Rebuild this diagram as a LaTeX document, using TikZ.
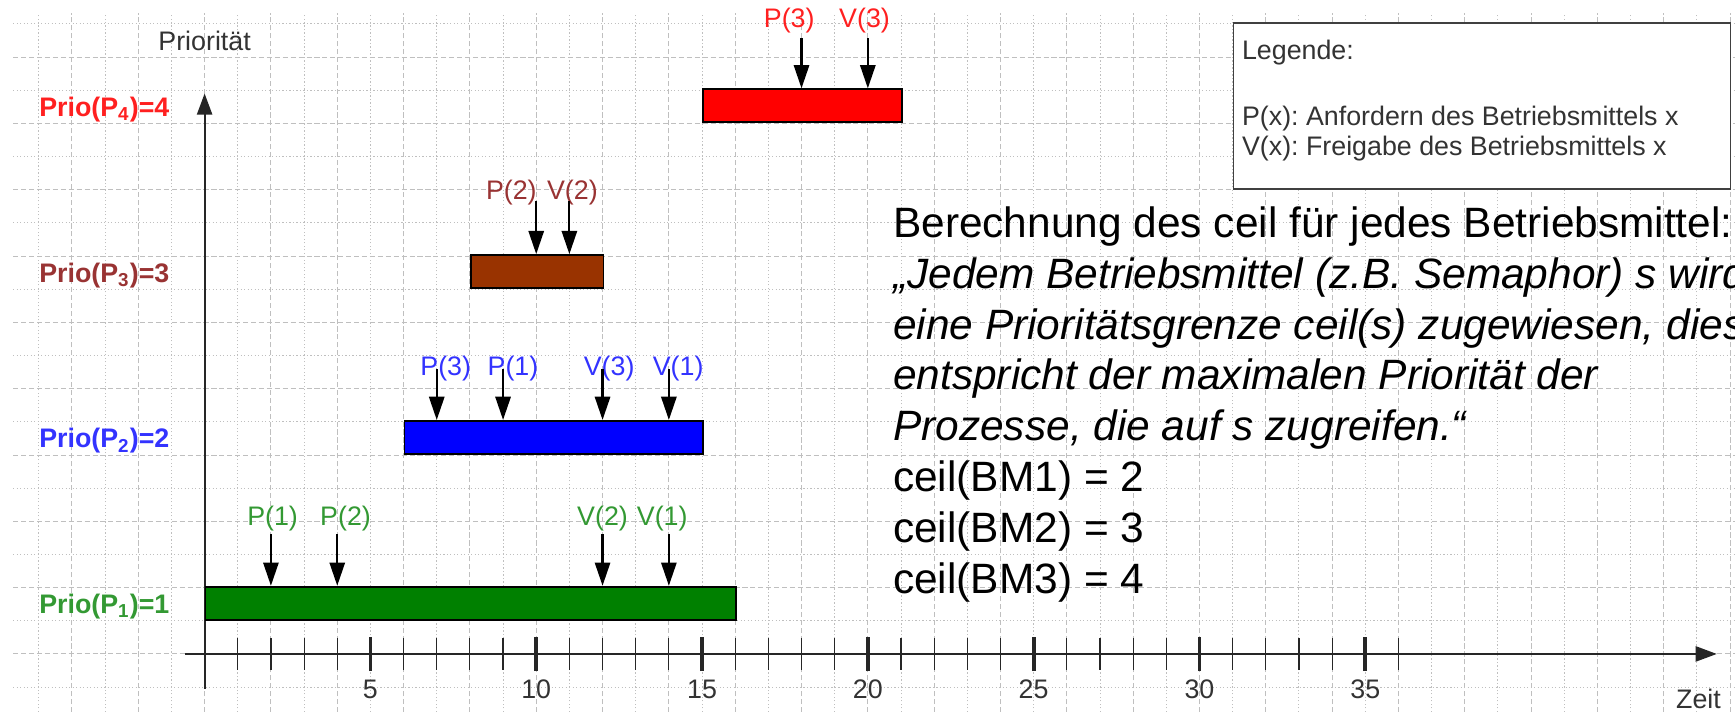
\documentclass[tikz,border=0pt]{standalone}
\usepackage{fontspec}
\setmainfont{Liberation Sans}
\usepackage{xcolor}
\usepackage{tikz}
\usetikzlibrary{arrows.meta, positioning, calc}
\definecolor{pgreen}{HTML}{008000}
\definecolor{pblue}{HTML}{0000FF}
\definecolor{pbrown}{HTML}{993300}
\definecolor{pred}{HTML}{FF0000}
\definecolor{tgreen}{HTML}{339933}
\definecolor{tblue}{HTML}{3333FF}
\definecolor{tbrown}{HTML}{993333}
\definecolor{tred}{HTML}{FF2020}
\definecolor{gridgray}{HTML}{BFBFBF}
\definecolor{txtgray}{HTML}{333333}
\frenchspacing

\begin{document}
\begin{tikzpicture}[
    x=5mm, y=5mm,
    gridmaj/.style={gridgray, line width=0.4pt, dash pattern=on 2.2pt off 1.2pt},
    gridmin/.style={gridgray, line width=0.4pt, dash pattern=on 0.5pt off 1pt},
    timeaxis/.style={-{Triangle[length=3.2mm, width=2.3mm]}, line width=0.8pt, draw=black!85},
    bar/.style={rectangle, draw=black, line width=0.8pt, fill=#1, minimum height=5mm, inner sep=0pt, anchor=south west},
    evt/.style={-{Triangle[length=3.5mm, width=2.3mm]}, line width=0.9pt},
    evlabel/.style={font=\fontsize{11.5}{13}\selectfont, text=#1, inner sep=0pt},
    prio/.style={font=\fontsize{11.5}{13}\selectfont\bfseries, text=#1, anchor=east, inner sep=0pt},
    lbl/.style={font=\fontsize{11.5}{13}\selectfont, text=txtgray, inner sep=0pt}
]

% Background and grid
\fill[white] (-6.17,-1.75) rectangle (46.15,19.72);
\useasboundingbox (-6.17,-1.75) rectangle (46.15,19.72);
\foreach \y in {-1,...,19}{
  \ifodd\y \draw[gridmin] (-5.77,\y) -- (46.15,\y);
  \else \draw[gridmaj] (-5.77,\y) -- (46.15,\y); \fi
}
\foreach \x in {-5,...,46}{
  \ifodd\x \draw[gridmin] (\x,-1.75) -- (\x,19.33);
  \else \draw[gridmaj] (\x,-1.75) -- (\x,19.33); \fi
}

% Axes
\coordinate (ybot) at (0,-1.05);
\coordinate (ytop) at (0,16.9);
\coordinate (xleft) at (-0.6,0);
\coordinate (xright) at (45.6,0);
\draw[timeaxis] (ybot) -- (ytop);
\draw[timeaxis] (xleft) -- (xright);
\foreach \t in {1,...,36}
  \draw[line width=0.5pt, black!85] (\t,-0.47) -- (\t,0.47);
\foreach \t in {5,10,...,35}{
  \draw[line width=1.6pt, black!85] (\t,-0.52) -- (\t,0.52);
  \node[lbl] (tick\t) at (\t,-1.06) {\t};
}
\node[lbl] (yname) at (0,18.5) {Priorität};
\node[lbl, anchor=base] (xname) at (45.05,-1.66) {Zeit};

% Priorities
\node[prio=tred] (prio4) at (-1.05,16.42) {Prio(P\textsubscript{4})=4};
\node[prio=tbrown] (prio3) at (-1.05,11.42) {Prio(P\textsubscript{3})=3};
\node[prio=tblue] (prio2) at (-1.05,6.42) {Prio(P\textsubscript{2})=2};
\node[prio=tgreen] (prio1) at (-1.05,1.42) {Prio(P\textsubscript{1})=1};

% Bars
\node[bar=pgreen, minimum width=80mm] (bar1) at (0,1) {};
\node[bar=pblue, minimum width=45mm] (bar2) at (6,6) {};
\node[bar=pbrown, minimum width=20mm] (bar3) at (8,11) {};
\node[bar=pred, minimum width=30mm] (bar4) at (15,16) {};

% P1
\node[evlabel=tgreen] (e1a) at (2.05,4.08) {P(1)};
\node[evlabel=tgreen] (e1b) at (4.25,4.08) {P(2)};
\node[evlabel=tgreen] (e1c) at (12.0,4.08) {V(2)};
\node[evlabel=tgreen] (e1d) at (13.8,4.08) {V(1)};
\coordinate (s1a) at (2,3.62);
\coordinate (s1b) at (4,3.62);
\coordinate (s1c) at (12,3.62);
\coordinate (s1d) at (14,3.62);
\draw[evt] (s1a) -- (s1a |- bar1.north);
\draw[evt] (s1b) -- (s1b |- bar1.north);
\draw[evt] (s1c) -- (s1c |- bar1.north);
\draw[evt] (s1d) -- (s1d |- bar1.north);

% P2
\node[evlabel=tblue] (e2a) at (7.27,8.6) {P(3)};
\node[evlabel=tblue] (e2b) at (9.3,8.6) {P(1)};
\node[evlabel=tblue] (e2c) at (12.2,8.6) {V(3)};
\node[evlabel=tblue] (e2d) at (14.28,8.6) {V(1)};
\coordinate (s2a) at (7,8.58);
\coordinate (s2b) at (9,8.58);
\coordinate (s2c) at (12,8.58);
\coordinate (s2d) at (14,8.58);
\draw[evt] (s2a) -- (s2a |- bar2.north);
\draw[evt] (s2b) -- (s2b |- bar2.north);
\draw[evt] (s2c) -- (s2c |- bar2.north);
\draw[evt] (s2d) -- (s2d |- bar2.north);

% P3
\node[evlabel=tbrown] (e3a) at (9.25,13.9) {P(2)};
\node[evlabel=tbrown] (e3b) at (11.09,13.9) {V(2)};
\coordinate (s3a) at (10,13.66);
\coordinate (s3b) at (11,13.66);
\draw[evt] (s3a) -- (s3a |- bar3.north);
\draw[evt] (s3b) -- (s3b |- bar3.north);

% P4
\node[evlabel=tred] (e4a) at (17.63,19.1) {P(3)};
\node[evlabel=tred] (e4b) at (19.9,19.1) {V(3)};
\coordinate (s4a) at (18,18.56);
\coordinate (s4b) at (20,18.56);
\draw[evt] (s4a) -- (s4a |- bar4.north);
\draw[evt] (s4b) -- (s4b |- bar4.north);

% Legend
\node[draw=black!75, fill=white, line width=0.6pt, minimum width=75mm, minimum height=25mm, anchor=south west, inner sep=0pt] (legend) at (31,14) {};
\node[lbl, anchor=base west] (legtitle) at (31.27,17.92) {Legende:};
\node[lbl, anchor=north west, align=left] (legtext) at (31.27,16.55) {P(x): Anfordern des Betriebsmittels x\\V(x): Freigabe des Betriebsmittels x};

% Ceiling text
\node[anchor=north west, align=left, inner sep=0pt, font=\fontsize{18.2}{21.8}\selectfont] (ceiltext) at (20.75,13.5) {Berechnung des ceil für jedes Betriebsmittel:\\
\textit{„Jedem Betriebsmittel (z.B. Semaphor) s wird}\\
\textit{eine Prioritätsgrenze ceil(s) zugewiesen, diese}\\
\textit{entspricht der maximalen Priorität der}\\
\textit{Prozesse, die auf s zugreifen.“}\\
ceil(BM1) = 2\\
ceil(BM2) = 3\\
ceil(BM3) = 4};

\end{tikzpicture}
\end{document}
